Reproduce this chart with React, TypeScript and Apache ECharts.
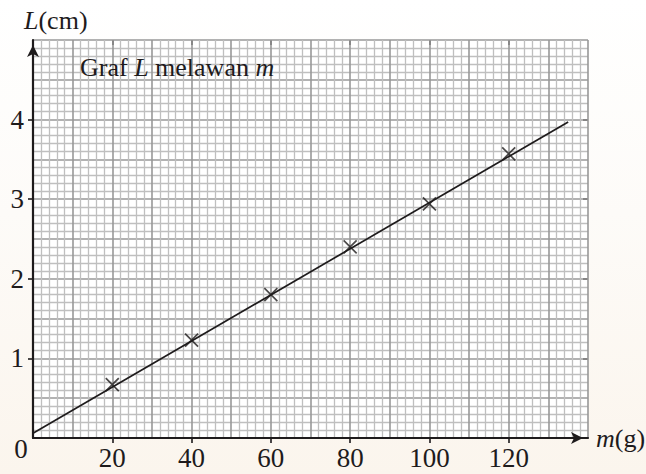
import React, { useEffect, useRef } from "react";
import * as echarts from "echarts";

// Measured mass (g) and spring extension (cm)
const massValues = [20, 40, 60, 80, 100, 120];
const lengthValues = [0.67, 1.23, 1.8, 2.4, 2.94, 3.57];

// Best-fit straight line drawn through the points
const fitMass = [0, 135];
const fitLength = [0.06, 3.97];

// Graph-paper extent and labelled ticks
const massRange = [0, 140];
const lengthRange = [0, 5];
const massTickRange = [20, 120];
const lengthTickRange = [1, 4];

const FONT = "'Liberation Serif', 'Times New Roman', serif";
const INK = "#1e1b1c";
const MAJOR = "#989898";
const MINOR = "#bfbfbf";

// Plot area in pixels
const PLOT = { left: 33, top: 40, width: 555, height: 398 };

export default function App() {
  const ref = useRef<HTMLDivElement>(null);

  useEffect(() => {
    if (!ref.current) return;
    const chart = echarts.init(ref.current, undefined, { renderer: "svg" });

    const pxPerMass = PLOT.width / (massRange[1] - massRange[0]);
    const pxPerLength = PLOT.height / (lengthRange[1] - lengthRange[0]);
    // Second grid spans only the labelled ticks; its axes are shifted back onto the main axes
    const tickGrid = {
      left: PLOT.left + (massTickRange[0] - massRange[0]) * pxPerMass,
      width: (massTickRange[1] - massTickRange[0]) * pxPerMass,
      top: PLOT.top + (lengthRange[1] - lengthTickRange[1]) * pxPerLength,
      height: (lengthTickRange[1] - lengthTickRange[0]) * pxPerLength,
    };
    const xShift = (lengthTickRange[0] - lengthRange[0]) * pxPerLength;
    const yShift = (massTickRange[0] - massRange[0]) * pxPerMass;

    const tickLabel = { fontFamily: FONT, fontSize: 27, color: INK };
    const tickLine = { color: INK, width: 1.6 };

    const axisArrow = {
      show: true,
      symbol: ["none", "arrow"],
      symbolSize: [9, 12],
      symbolOffset: [0, -5],
      lineStyle: { color: INK, width: 2.2 },
    };

    chart.setOption({
      animation: false,
      grid: [
        {
          ...PLOT,
          show: true,
          backgroundColor: "#ffffff",
          borderWidth: 0,
          containLabel: false,
        },
        { ...tickGrid, show: false, containLabel: false },
      ],
      xAxis: [
        {
          gridIndex: 0,
          type: "value",
          min: massRange[0],
          max: massRange[1],
          interval: 10,
          axisLine: { ...axisArrow, onZero: false },
          axisTick: { show: false },
          axisLabel: { show: false },
          splitLine: { show: true, lineStyle: { color: MAJOR, width: 1.6 } },
          minorTick: { show: false, splitNumber: 5 },
          minorSplitLine: { show: true, lineStyle: { color: MINOR, width: 1.3 } },
          z: 3,
        },
        {
          gridIndex: 1,
          type: "value",
          min: massTickRange[0],
          max: massTickRange[1],
          interval: 20,
          offset: xShift,
          axisLine: { show: false },
          axisTick: { show: true, inside: false, length: 5, lineStyle: tickLine },
          axisLabel: { show: true, margin: 6, ...tickLabel },
          splitLine: { show: false },
        },
        {
          gridIndex: 1,
          type: "value",
          min: massTickRange[0],
          max: massTickRange[1],
          interval: 20,
          offset: xShift,
          axisLine: { show: false },
          axisTick: { show: true, inside: true, length: 5, lineStyle: tickLine },
          axisLabel: { show: false },
          splitLine: { show: false },
        },
      ],
      yAxis: [
        {
          gridIndex: 0,
          type: "value",
          min: lengthRange[0],
          max: lengthRange[1],
          interval: 0.5,
          axisLine: { ...axisArrow, onZero: false },
          axisTick: { show: false },
          axisLabel: { show: false },
          splitLine: { show: true, lineStyle: { color: MAJOR, width: 1.6 } },
          minorTick: { show: false, splitNumber: 5 },
          minorSplitLine: { show: true, lineStyle: { color: MINOR, width: 1.3 } },
          z: 3,
        },
        {
          gridIndex: 1,
          type: "value",
          min: lengthTickRange[0],
          max: lengthTickRange[1],
          interval: 1,
          offset: yShift,
          axisLine: { show: false },
          axisTick: { show: true, inside: false, length: 5, lineStyle: tickLine },
          axisLabel: { show: true, margin: 9, ...tickLabel },
          splitLine: { show: false },
        },
        {
          gridIndex: 1,
          type: "value",
          min: lengthTickRange[0],
          max: lengthTickRange[1],
          interval: 1,
          offset: yShift,
          axisLine: { show: false },
          axisTick: { show: true, inside: true, length: 5, lineStyle: tickLine },
          axisLabel: { show: false },
          splitLine: { show: false },
        },
      ],
      series: [
        {
          type: "line",
          xAxisIndex: 0,
          yAxisIndex: 0,
          data: fitMass.map((m, i) => [m, fitLength[i]]),
          showSymbol: false,
          lineStyle: { color: INK, width: 1.7 },
          z: 5,
        },
        {
          type: "scatter",
          xAxisIndex: 0,
          yAxisIndex: 0,
          data: massValues.map((m, i) => [m, lengthValues[i]]),
          symbol: "path://M0,0L10,10M10,0L0,10",
          symbolSize: 13,
          itemStyle: { color: "none", borderColor: INK, borderWidth: 1.7 },
          z: 6,
        },
      ],
      graphic: [
        {
          type: "text",
          x: 24,
          y: 20,
          style: {
            text: "{i|L}(cm)",
            font: `26px ${FONT}`,
            fill: INK,
            verticalAlign: "middle",
            rich: { i: { fontStyle: "italic", fontFamily: FONT, fontSize: 26, fill: INK } },
          },
        },
        {
          type: "text",
          x: 80,
          y: 67,
          z: 10,
          style: {
            text: "Graf {i|L} melawan {i|m}",
            font: `26px ${FONT}`,
            fill: INK,
            verticalAlign: "middle",
            rich: { i: { fontStyle: "italic", fontFamily: FONT, fontSize: 26, fill: INK } },
          },
        },
        {
          type: "text",
          x: 596,
          y: 438,
          style: {
            text: "{i|m}(g)",
            font: `26px ${FONT}`,
            fill: INK,
            verticalAlign: "middle",
            rich: { i: { fontStyle: "italic", fontFamily: FONT, fontSize: 26, fill: INK } },
          },
        },
        {
          type: "text",
          x: 21,
          y: 449,
          style: {
            text: "0",
            font: `27px ${FONT}`,
            fill: INK,
            align: "center",
            verticalAlign: "middle",
          },
        },
      ],
    });

    return () => chart.dispose();
  }, []);

  return (
    <div
      style={{
        position: "fixed",
        left: 0,
        top: 0,
        width: 646,
        height: 474,
        background: "linear-gradient(to bottom, #ffffff 0%, #fdfbf8 45%, #fbf5ed 100%)",
      }}
    >
      <div ref={ref} style={{ width: 646, height: 474 }} />
    </div>
  );
}
